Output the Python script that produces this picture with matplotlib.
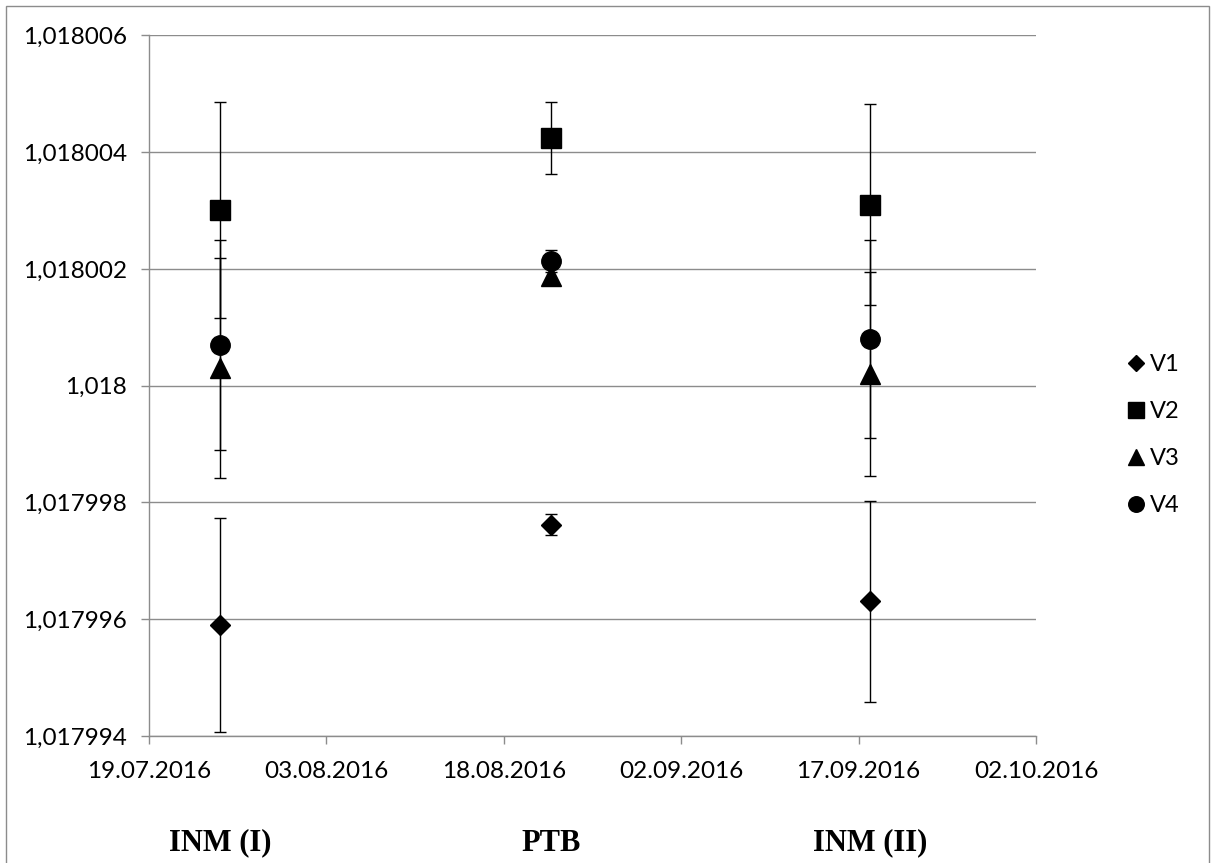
import datetime as dt
import matplotlib
matplotlib.use("Agg")
import matplotlib.pyplot as plt
import matplotlib.dates as mdates
from matplotlib.ticker import FuncFormatter
from matplotlib.patches import Rectangle
from matplotlib.lines import Line2D

# measurement dates for the three campaigns
dates = [dt.datetime(2016, 7, 25), dt.datetime(2016, 8, 22), dt.datetime(2016, 9, 18)]
campaigns = ["INM (I)", "PTB", "INM (II)"]

v1 = [1.0179959, 1.01799762, 1.01799631]
v1_err = [1.83e-6, 0.185e-6, 1.72e-6]
v2 = [1.0180030, 1.01800424, 1.0180031]
v2_err = [1.85e-6, 0.62e-6, 1.72e-6]
v3 = [1.0180003, 1.01800187, 1.0180002]
v3_err = [1.88e-6, 0.14e-6, 1.74e-6]
v4 = [1.01800069, 1.01800214, 1.0180008]
v4_err = [1.80e-6, 0.19e-6, 1.70e-6]

series = [("V1", v1, v1_err, "D", 10.2),
          ("V2", v2, v2_err, "s", 14.0),
          ("V3", v3, v3_err, "^", 14.0),
          ("V4", v4, v4_err, "o", 14.0)]

y_ticks = [1.017994, 1.017996, 1.017998, 1.018, 1.018002, 1.018004, 1.018006]
x_start = dt.datetime(2016, 7, 19)
x_end = dt.datetime(2016, 10, 2)

W, H = 1215, 863
fig = plt.figure(figsize=(W / 100, H / 100), dpi=100)
ax = fig.add_axes([149 / W, 1 - 736 / H, (1036 - 149) / W, (736 - 35.3) / H])

grey = "#8c8c8c"
handles = []
for name, vals, errs, mk, ms in series:
    ax.errorbar(dates, vals, yerr=errs, fmt=mk, color="black", ms=ms,
                ecolor="black", elinewidth=1.0, capsize=4.5, capthick=1.0,
                zorder=3)
    # legend shows markers only, a bit smaller
    handles.append(Line2D([], [], ls="none", marker=mk, color="black",
                          ms=ms * 0.8, label=name))

ax.set_ylim(y_ticks[0], y_ticks[-1])
ax.set_yticks(y_ticks)
ax.yaxis.set_major_formatter(FuncFormatter(
    lambda v, p: f"{v:.6f}".rstrip("0").replace(".", ",")))
ax.set_xlim(x_start, x_end)
ax.set_xticks([x_start + dt.timedelta(days=15 * i) for i in range(6)])
ax.xaxis.set_major_formatter(mdates.DateFormatter("%d.%m.%Y"))

ax.grid(axis="y", color=grey, linewidth=1.0)
ax.set_axisbelow(True)
for s in ["top", "right"]:
    ax.spines[s].set_visible(False)
for s in ["left", "bottom"]:
    ax.spines[s].set_color(grey)
    ax.spines[s].set_linewidth(1.0)
ax.tick_params(axis="both", colors=grey, length=6, width=1.0,
               labelcolor="black", labelsize=17.5)
ax.tick_params(axis="x", pad=12)
ax.tick_params(axis="y", pad=10)
for lab in ax.get_xticklabels() + ax.get_yticklabels():
    lab.set_family("Lato")

ax.legend(handles=handles, loc="center left",
          bbox_to_anchor=(1105 / W, 1 - 435 / H),
          bbox_transform=fig.transFigure, frameon=False,
          prop={"family": "Lato", "size": 17},
          handlelength=0.8, handletextpad=0.2, labelspacing=1.1)

for name, d in zip(campaigns, dates):
    xf = ax.transData.transform((mdates.date2num(d), 0))[0] / W
    fig.text(xf, 1 - 843 / H, name, ha="center", va="center",
             family="Liberation Serif", weight="bold", fontsize=22)

fig.patches.append(Rectangle((6 / W, -0.05), (1209 - 6) / W, 1.05 - 6 / H,
                             transform=fig.transFigure, fill=False,
                             edgecolor=grey, linewidth=1.0))

fig.savefig("out.png", dpi=100)
